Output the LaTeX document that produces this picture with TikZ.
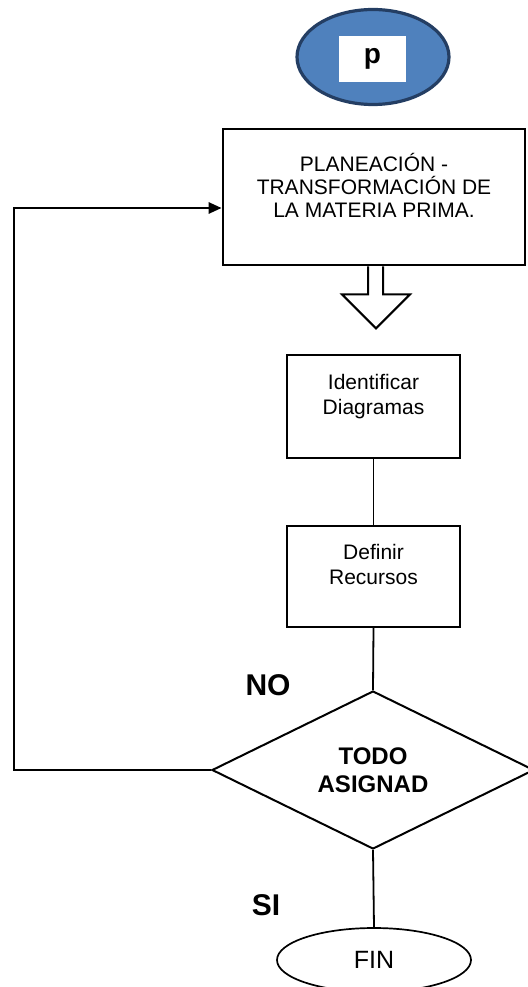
\documentclass[tikz,border=0pt]{standalone}
\usepackage{fontspec}
\setmainfont{Liberation Sans}
\usetikzlibrary{shapes.geometric,arrows.meta}
\definecolor{startfill}{RGB}{79,129,189}
\definecolor{startline}{RGB}{36,62,99}
\tikzset{
  stepbox/.style={draw=black, line width=1.8pt, fill=white, align=center,
    font=\fontsize{21}{25}\selectfont, inner sep=0pt},
  bigbox/.style={stepbox, line width=2.7pt, font=\fontsize{21}{23}\selectfont},
  decision/.style={diamond, draw=black, line width=2pt, fill=white, inner sep=0pt,
    align=center, font=\bfseries\fontsize{24}{28}\selectfont},
  endnode/.style={ellipse, draw=black, line width=1.7pt, fill=white, inner sep=0pt,
    font=\fontsize{25}{30}\selectfont},
  startnode/.style={ellipse, draw=startline, fill=startfill, line width=3.2pt, inner sep=0pt},
  tag/.style={font=\bfseries\fontsize{30}{34}\selectfont},
  link/.style={draw=black, line width=1.8pt},
}
\begin{document}
\begin{tikzpicture}[x=1pt,y=-1pt]
\useasboundingbox (0,0) rectangle (527,987);

% start terminal
\node[startnode, minimum width=152, minimum height=95] (start) at (373,57) {};
\node[fill=white, minimum width=67, minimum height=46, inner sep=0pt,
      font=\bfseries\fontsize{28}{30}\selectfont] (plabel) at (372.5,59) {p};

% process boxes
\node[bigbox, minimum width=302, minimum height=136] (plan) at (374,197)
  {PLANEACIÓN -\\TRANSFORMACIÓN DE\\LA MATERIA PRIMA.\\[0pt]~};
\node[stepbox, minimum width=173, minimum height=103] (ident) at (373.5,406.5)
  {Identificar\\Diagramas\\[0pt]~};
\node[stepbox, minimum width=173, minimum height=101] (defin) at (373.5,576.5)
  {Definir\\Recursos\\[0pt]~};

% decision and end
\node[decision, minimum width=322, minimum height=158] (dec) at (373,770)
  {TODO\\ASIGNAD};
\node[endnode, minimum width=194, minimum height=64] (fin) at (374,960) {FIN};

% branch labels
\node[tag] (no) at (268,685) {NO};
\node[tag] (si) at (266,905) {SI};

% hollow block arrow under the planning box
\draw[line width=2pt, fill=white, line join=miter]
  ([xshift=-6pt]plan.south) -- ++(0,28) -- ++(-26,0) -- ++(34,34)
  -- ++(34,-34) -- ++(-27,0) -- ([xshift=9pt]plan.south);

% straight connectors
\draw[link] (ident.south) -- (defin.north);
\draw[link] (defin.south) -- (dec.north);
\draw[link] (dec.south) -- (fin.north);

% return loop on the NO branch
\coordinate (loopcorner) at (14,770);
\draw[line width=2.7pt, -{Triangle[length=13pt,width=11pt]}]
  (dec.west) -- (loopcorner) |- ([yshift=-11pt]plan.west);
\end{tikzpicture}
\end{document}
